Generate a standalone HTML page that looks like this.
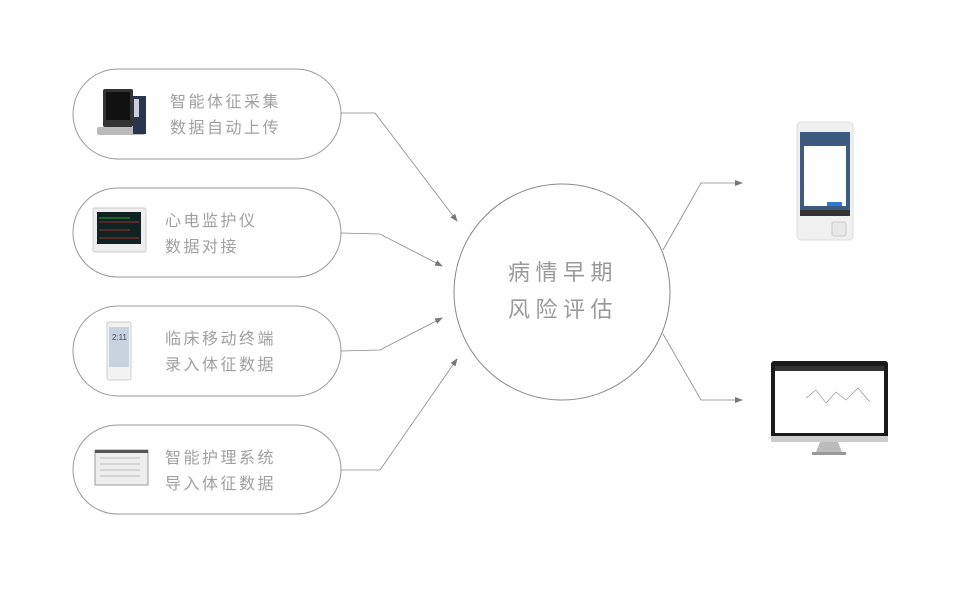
<!DOCTYPE html>
<html><head><meta charset="utf-8"><style>
body{margin:0;background:#fff;width:960px;height:589px;overflow:hidden;font-family:"Liberation Sans","Noto Sans CJK SC",sans-serif}
</style></head><body>
<svg width="960" height="589" viewBox="0 0 960 589" xmlns="http://www.w3.org/2000/svg" font-family="Liberation Sans, Noto Sans CJK SC, sans-serif">
<defs><marker id="a" markerWidth="8" markerHeight="6" refX="7" refY="3" orient="auto" markerUnits="userSpaceOnUse"><path d="M0,0 L8,3 L0,6z" fill="#777"/></marker></defs>
<g fill="none" stroke="#999" stroke-width="1">
<rect x="73" y="69" width="268" height="90" rx="45"/>
<rect x="73" y="188" width="268" height="89" rx="44.5"/>
<rect x="73" y="306" width="268" height="90" rx="45"/>
<rect x="73" y="425" width="268" height="89" rx="44.5"/>
<circle cx="562" cy="292" r="108" stroke="#888"/>
</g>
<g fill="none" stroke="#888" stroke-width="0.8" marker-end="url(#a)">
<polyline points="341,113 375,113 457,221"/>
<polyline points="341,233 380,234 442,266"/>
<polyline points="341,351 380,350 442,318"/>
<polyline points="341,470 380,470 457,359"/>
<polyline points="663,250 701,183 742,183"/>
<polyline points="663,334 701,400 742,400"/>
</g>
<g fill="#a0a0a0" font-size="16" letter-spacing="2.5">
<text x="170" y="107">智能体征采集</text><text x="170" y="133">数据自动上传</text>
<text x="165" y="226">心电监护仪</text><text x="165" y="252">数据对接</text>
<text x="165" y="344">临床移动终端</text><text x="165" y="370">录入体征数据</text>
<text x="165" y="463">智能护理系统</text><text x="165" y="489">导入体征数据</text>
</g>
<g fill="#999" font-size="22" letter-spacing="5.5">
<text x="508" y="280">病情早期</text><text x="508" y="317">风险评估</text>
</g>
<!-- icon1 monitor with stand -->
<rect x="103" y="89" width="30" height="38" rx="2" fill="#333"/>
<rect x="106" y="92" width="24" height="28" fill="#111"/>
<rect x="97" y="127" width="48" height="8" rx="2" fill="#bbb"/>
<rect x="133" y="96" width="13" height="38" fill="#2a3550"/>
<rect x="134" y="99" width="5" height="18" fill="#ccd"/>
<!-- icon2 -->
<rect x="93" y="208" width="53" height="44" rx="2" fill="#eee" stroke="#ccc"/>
<rect x="97" y="212" width="44" height="32" fill="#122"/>
<path d="M99,222 L139,222 M99,230 L130,230 M99,238 L139,238" stroke="#c33" stroke-width="0.8"/>
<path d="M99,218 L130,218" stroke="#3c3" stroke-width="0.8"/>
<!-- icon3 phone -->
<rect x="107" y="322" width="24" height="58" rx="2" fill="#f2f2f2" stroke="#ccc"/>
<rect x="109" y="327" width="20" height="40" fill="#c9d3e0"/>
<text x="112" y="340" font-size="8" fill="#446">2:11</text>
<!-- icon4 -->
<rect x="95" y="450" width="53" height="35" fill="#eee" stroke="#999"/>
<rect x="95" y="450" width="53" height="3" fill="#555"/>
<path d="M100,458 h40 M100,464 h40 M100,470 h40 M100,476 h40" stroke="#bbb" stroke-width="1"/>
<!-- right phone -->
<rect x="797" y="122" width="56" height="118" rx="4" fill="#f0f0f0" stroke="#ddd"/>
<rect x="800" y="132" width="50" height="78" fill="#3d5a80"/>
<rect x="804" y="146" width="42" height="60" fill="#fff"/>
<rect x="827" y="202" width="15" height="4" fill="#2a7bd3"/>
<rect x="800" y="210" width="50" height="6" fill="#333"/>
<rect x="832" y="222" width="14" height="14" rx="2" fill="#e8e8e8" stroke="#ccc"/>
<!-- right monitor -->
<rect x="771" y="361" width="117" height="78" rx="3" fill="#1a1a1a"/>
<rect x="775" y="366" width="109" height="67" fill="#fff"/>
<rect x="775" y="366" width="109" height="5" fill="#333"/>
<polyline points="806,398 816,390 826,403 836,392 846,400 858,388 870,402" fill="none" stroke="#888" stroke-width="0.6"/>
<rect x="771" y="436" width="117" height="6" fill="#ccc"/>
<path d="M820,442 L838,442 L842,452 L816,452z" fill="#bbb"/>
<rect x="812" y="452" width="34" height="3" fill="#999"/>
</svg>
</body></html>
